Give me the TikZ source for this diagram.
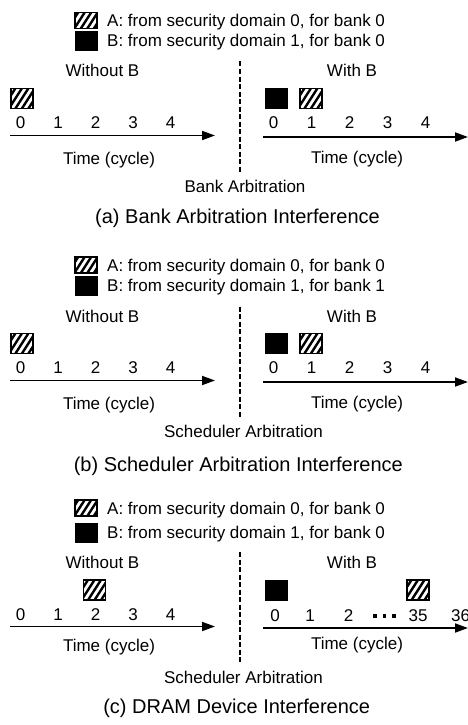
\documentclass[tikz,border=0pt]{standalone}
\usepackage{fontspec}
\setmainfont{Liberation Sans}
\usetikzlibrary{arrows.meta,calc}
\tikzset{
  lbl/.style={inner sep=0pt, anchor=base, font=\fontsize{17}{20}\selectfont},
  legtext/.style={lbl, anchor=base west},
  capt/.style={inner sep=0pt, anchor=base, font=\fontsize{20}{24}\selectfont},
  solidbox/.style={fill=black, draw=black, line width=1pt,
    minimum width=22pt, minimum height=20pt, inner sep=0pt},
  hatchbox/.style={draw=black, fill=white, line width=1.2pt,
    minimum width=22pt, minimum height=20pt, inner sep=0pt,
    path picture={\foreach \k in {-3,...,3}{
      \draw[line width=2.4pt]
        ($(path picture bounding box.center)+(\k*6.5pt-9pt,-14pt)$) -- ++(18pt,28pt);}}},
  legsolid/.style={solidbox, minimum height=19pt},
  leghatch/.style={hatchbox, minimum height=16pt},
  timeline/.style={line width=1.8pt, -{Triangle[length=13pt,width=9pt]}},
  divider/.style={line width=1.8pt, dash pattern=on 5pt off 2.5pt},
  dotmark/.style={fill=black, inner sep=0pt, minimum size=3.6pt},
}
\begin{document}
\begin{tikzpicture}[x=1pt, y=-1pt]
\useasboundingbox (0,0) rectangle (468,725);

% ---------- (a) bank arbitration ----------
\begin{scope}
  \node[leghatch] (aLA) at (86,20.5) {};
  \node[legsolid] (aLB) at (86,41.3) {};
  \node[legtext] (aTA) at (107,26.5) {A: from security domain 0, for bank 0};
  \node[legtext] (aTB) at (107,46.8) {B: from security domain 1, for bank 0};
  \node[lbl] (aWo) at (102.5,77) {Without B};
  \node[lbl] (aWi) at (352,77) {With B};
  \coordinate (aD1) at (240,61.5);
  \coordinate (aD2) at (240,171.5);
  \draw[divider] (aD1) -- (aD2);
  \node[hatchbox] (aAl) at (22,98.3) {};
  \node[solidbox] (aBr) at (276,98.3) {};
  \node[hatchbox] (aAr) at (311,98.3) {};
  \foreach \t [count=\i from 0] in {0,1,2,3,4}{
    \node[lbl] (aTl\i) at (20.5+37.5*\i,128) {\t};
    \node[lbl] (aTr\i) at (273.5+38*\i,128.5) {\t};
  }
  \coordinate (aL1) at (10,135.5);
  \coordinate (aL2) at (215,135.5);
  \coordinate (aR1) at (263,137);
  \coordinate (aR2) at (468,137);
  \draw[timeline] (aL1) -- (aL2);
  \draw[timeline] (aR1) -- (aR2);
  \node[lbl] (aXl) at (109,164.5) {Time (cycle)};
  \node[lbl] (aXr) at (357,163) {Time (cycle)};
  \node[lbl] (aArb) at (245,192) {Bank Arbitration};
  \node[capt] (aCap) at (237.5,223.8) {(a) Bank Arbitration Interference};
\end{scope}

% ---------- (b) scheduler arbitration ----------
\begin{scope}[shift={(0,245)}]
  \node[leghatch] (bLA) at (86,20) {};
  \node[legsolid] (bLB) at (86,41) {};
  \node[legtext] (bTA) at (107,26) {A: from security domain 0, for bank 0};
  \node[legtext] (bTB) at (107,46.5) {B: from security domain 1, for bank 1};
  \node[lbl] (bWo) at (102.5,77) {Without B};
  \node[lbl] (bWi) at (352,77) {With B};
  \coordinate (bD1) at (240,61.5);
  \coordinate (bD2) at (240,171.5);
  \draw[divider] (bD1) -- (bD2);
  \node[hatchbox] (bAl) at (22,98.3) {};
  \node[solidbox] (bBr) at (276,98.3) {};
  \node[hatchbox] (bAr) at (311,98.3) {};
  \foreach \t [count=\i from 0] in {0,1,2,3,4}{
    \node[lbl] (bTl\i) at (20.5+37.5*\i,128) {\t};
    \node[lbl] (bTr\i) at (273.5+38*\i,128.5) {\t};
  }
  \coordinate (bL1) at (10,135.5);
  \coordinate (bL2) at (215,135.5);
  \coordinate (bR1) at (263,137);
  \coordinate (bR2) at (468,137);
  \draw[timeline] (bL1) -- (bL2);
  \draw[timeline] (bR1) -- (bR2);
  \node[lbl] (bXl) at (109,164.5) {Time (cycle)};
  \node[lbl] (bXr) at (357,163) {Time (cycle)};
  \node[lbl] (bArb) at (243.5,192) {Scheduler Arbitration};
\end{scope}
\node[capt] (bCap) at (238.3,471) {(b) Scheduler Arbitration Interference};

% ---------- (c) DRAM device ----------
\begin{scope}[shift={(0,491)}]
  \node[leghatch] (cLA) at (86,17) {};
  \node[legsolid] (cLB) at (86,41.5) {};
  \node[legtext] (cTA) at (107,23) {A: from security domain 0, for bank 0};
  \node[legtext] (cTB) at (107,47) {B: from security domain 1, for bank 0};
  \node[lbl] (cWo) at (102.5,77) {Without B};
  \node[lbl] (cWi) at (352,77) {With B};
  \coordinate (cD1) at (240,61);
  \coordinate (cD2) at (240,171);
  \draw[divider] (cD1) -- (cD2);
  \node[hatchbox] (cAl) at (94.5,99) {};
  \node[solidbox] (cBr) at (276,99) {};
  \node[hatchbox] (cAr) at (418,99) {};
  \foreach \t [count=\i from 0] in {0,1,2,3,4}{
    \node[lbl] (cTl\i) at (20.5+37.5*\i,129.5) {\t};
  }
  \node[lbl] (cTr0) at (275,130) {0};
  \node[lbl] (cTr1) at (310,130) {1};
  \node[lbl] (cTr2) at (348.5,130) {2};
  \node[dotmark] (cDt1) at (375,125) {};
  \node[dotmark] (cDt2) at (384.5,125) {};
  \node[dotmark] (cDt3) at (394,125) {};
  \node[lbl] (cTr35) at (418,130) {35};
  \node[lbl, anchor=base west] (cTr36) at (451,130) {36};
  \coordinate (cL1) at (10,135.5);
  \coordinate (cL2) at (215,135.5);
  \coordinate (cR1) at (263,137);
  \coordinate (cR2) at (468,137);
  \draw[timeline] (cL1) -- (cL2);
  \draw[timeline] (cR1) -- (cR2);
  \node[lbl] (cXl) at (109,160) {Time (cycle)};
  \node[lbl] (cXr) at (357,158.5) {Time (cycle)};
  \node[lbl] (cArb) at (243.5,192) {Scheduler Arbitration};
\end{scope}
\node[capt] (cCap) at (236.7,713) {(c) DRAM Device Interference};
\end{tikzpicture}
\end{document}
